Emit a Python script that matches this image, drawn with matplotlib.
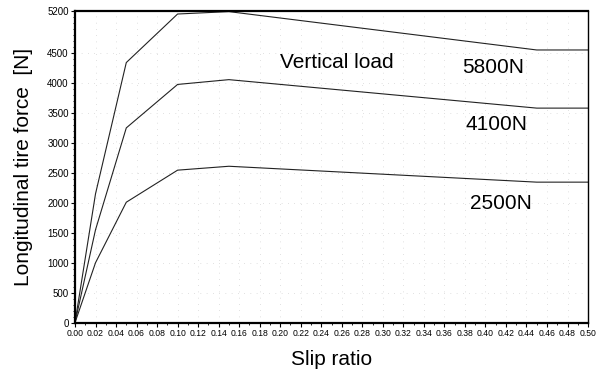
import numpy as np
import matplotlib.pyplot as plt
from matplotlib.ticker import MultipleLocator

# slip ratio sample points
slip = [0.0, 0.02, 0.05, 0.10, 0.15, 0.45, 0.50]

# longitudinal force [N] for each vertical load
force_5800 = [0, 2150, 4340, 5150, 5190, 4550, 4550]
force_4100 = [0, 1550, 3250, 3975, 4055, 3580, 3580]
force_2500 = [0, 1000, 2010, 2545, 2610, 2345, 2345]

load_labels = ["5800N", "4100N", "2500N"]
label_pos = [(0.408, 4260), (0.411, 3310), (0.415, 1990)]

y_ticks = [0, 500, 1000, 1500, 2000, 2500, 3000, 3500, 4000, 4500, 5200]
x_ticks = np.round(np.arange(0, 0.501, 0.02), 2)

plt.rcParams['font.family'] = ['Liberation Sans', 'DejaVu Sans']

fig = plt.figure(figsize=(5.97, 3.85), dpi=100)
ax = fig.add_axes([0.1256, 0.1618, 0.8594, 0.8096])

for f in (force_5800, force_4100, force_2500):
    ax.plot(slip, f, color='#222222', lw=0.8)

ax.set_xlim(0, 0.5)
ax.set_ylim(0, 5200)

# faint dotted grid like the scanned original
ax.grid(True, color='#c4c4c4', lw=0.5, linestyle=(0, (1, 8)))

ax.set_xticks(x_ticks)
ax.set_xticklabels([f"{v:.2f}" for v in x_ticks], fontsize=6.2)
ax.set_yticks(y_ticks)
ax.set_yticklabels([str(v) for v in y_ticks], fontsize=7)
ax.xaxis.set_minor_locator(MultipleLocator(0.01))
ax.yaxis.set_minor_locator(MultipleLocator(100))
ax.tick_params(axis='both', which='major', direction='out', length=3, width=0.8, pad=1.5)
ax.tick_params(axis='both', which='minor', direction='out', length=1.5, width=0.6)

for side in ('left', 'bottom', 'top'):
    ax.spines[side].set_linewidth(1.6)
ax.spines['right'].set_linewidth(1.0)

ax.set_xlabel("Slip ratio", fontsize=15, labelpad=9)
ax.set_ylabel("Longitudinal tire force  [N]", fontsize=15, labelpad=10)

ax.text(0.255, 4340, "Vertical load", fontsize=15, ha='center', va='center')
for lab, (x, y) in zip(load_labels, label_pos):
    ax.text(x, y, lab, fontsize=15, ha='center', va='center')

fig.savefig("out.png", dpi=100)
